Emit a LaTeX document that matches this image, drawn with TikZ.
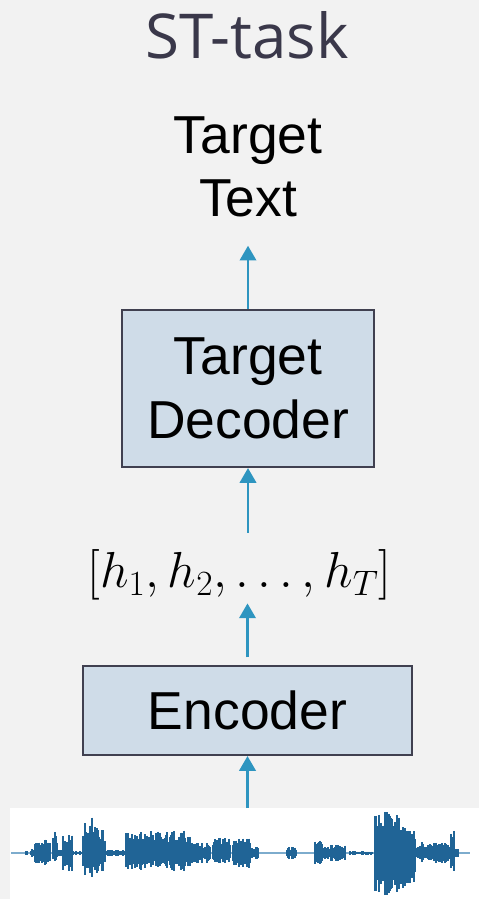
\documentclass[tikz,border=0pt]{standalone}
\usepackage{fix-cm}
\usepackage{fontspec}
\setmainfont{Liberation Sans}
\newfontfamily\titlefont{Open Sans}
\usetikzlibrary{arrows.meta, positioning}

\definecolor{bggray}{RGB}{242,242,242}
\definecolor{boxfill}{RGB}{207,220,232}
\definecolor{boxline}{RGB}{64,64,80}
\definecolor{flowblue}{RGB}{46,149,192}
\definecolor{titlegray}{RGB}{58,56,74}
\definecolor{wavedark}{RGB}{32,100,150}
\definecolor{wavelight}{RGB}{125,172,205}

\begin{document}
% units are pixels, y grows downwards
\begin{tikzpicture}[x=0.025cm, y=-0.025cm,
    every node/.style={font=\fontsize{38}{45}\selectfont},
    block/.style={draw=boxline, line width=1.4pt, fill=boxfill, align=center},
    flow/.style={draw=flowblue, line width=2.1pt, -{Triangle[width=11.5pt, length=10.5pt]}}]
    \fill[bggray] (0,0) rectangle (479,899);
    \fill[white] (10,808) rectangle (479,899);

    \node[text=titlegray, font=\titlefont\fontsize{44}{50}\selectfont, anchor=base] (title) at (247,59) {ST-task};
    \node[align=center, inner sep=0pt] (tgt) at (248,167) {Target\\Text};
    \node[block, minimum width=6.3cm, minimum height=3.925cm] (dec) at (248,388.5) {Target\\Decoder};
    \node[inner sep=0pt, font=\fontsize{36}{40}\selectfont] (hs) at (239.5,575) {$[h_1, h_2, \ldots, h_T]$};
    \node[block, minimum width=8.225cm, minimum height=2.225cm] (enc) at (247.5,710.5) {Encoder};
    \coordinate (wav) at (247.5,808);

    \draw[flow, shorten >=20pt] (dec.north) -- (dec.north |- tgt.south);
    \draw[flow, shorten <=12pt] (dec.south |- hs.north) -- (dec.south);
    \draw[flow, shorten <=5.5pt, shorten >=2pt] (enc.north) -- (enc.north |- hs.south);
    \draw[flow] (wav) -- (enc.south);

    % speech waveform
    \draw[wavelight, line width=1.1pt] (11,853) -- (470,853);
    \pgfmathsetseed{42}
    \foreach \a/\b/\u/\d in {26/27/3/3, 31/34/4/4, 35/43/11/11, 45/50/15/13, 53/57/22/9,
        58/62/4/4, 63/72/21/22, 73/82/2/2, 83/90/30/22, 91/96/36/24, 97/105/25/20,
        107/125/3/3, 126/127/28/20, 128/145/21/17, 146/160/23/15, 161/170/21/15,
        171/190/23/19, 191/210/10/10, 213/230/15/10, 233/250/15/15, 251/258/6/6,
        287/296/6/6, 315/322/13/12, 323/345/8/8, 350/372/2/2, 375/400/41/42,
        401/415/26/35, 416/435/11/9, 436/450/11/11, 451/454/23/19, 455/458/4/4}
    {
        \foreach \x in {\a,...,\b}{
            \pgfmathsetmacro\r{0.45+0.55*rnd}
            \draw[wavedark, line width=0.85pt] (\x,853-\u*\r) -- (\x,853+\d*\r);
        }
    }
\end{tikzpicture}
\end{document}
